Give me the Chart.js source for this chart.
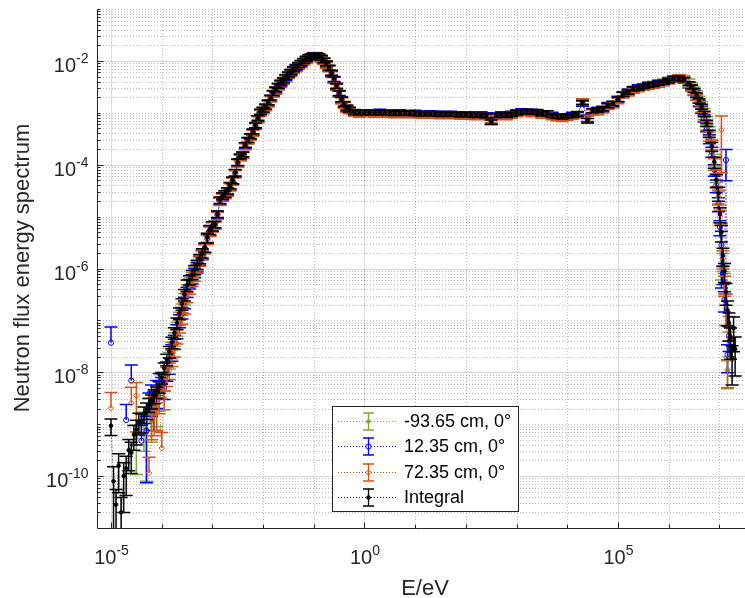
<!DOCTYPE html>
<html>
<head>
<meta charset="utf-8">
<title>Neutron flux energy spectrum</title>
<script src="https://cdn.jsdelivr.net/npm/chart.js@4.4.1/dist/chart.umd.min.js"></script>
<style>
  html, body { margin: 0; padding: 0; background: #fff; }
  canvas { display: block; }
</style>
</head>
<body>
<canvas id="spectrum" width="745" height="598"></canvas>
<script>
// energy bins, log10(E/eV)
const energyExp = [
  -5.00,-4.95,-4.90,-4.85,-4.80,-4.75,-4.70,-4.65,-4.60,-4.55,
  -4.50,-4.45,-4.40,-4.35,-4.30,-4.25,-4.20,-4.15,-4.10,-4.05,
  -4.00,-3.95,-3.90,-3.85,-3.80,-3.75,-3.70,-3.65,-3.60,-3.55,
  -3.50,-3.45,-3.40,-3.35,-3.30,-3.25,-3.20,-3.15,-3.10,-3.05,
  -3.00,-2.95,-2.90,-2.85,-2.80,-2.75,-2.70,-2.65,-2.60,-2.55,
  -2.50,-2.45,-2.40,-2.35,-2.30,-2.25,-2.20,-2.15,-2.10,-2.05,
  -2.00,-1.95,-1.90,-1.85,-1.80,-1.75,-1.70,-1.65,-1.60,-1.55,
  -1.50,-1.45,-1.40,-1.35,-1.30,-1.25,-1.20,-1.15,-1.10,-1.05,
  -1.00,-0.95,-0.90,-0.85,-0.80,-0.75,-0.70,-0.65,-0.60,-0.55,
  -0.50,-0.45,-0.40,-0.35,-0.30,
  -0.2,-0.1,0.0,0.1,0.2,0.3,0.4,0.5,0.6,0.7,
  0.8,0.9,1.0,1.1,1.2,1.3,1.4,1.5,1.6,1.7,
  1.8,1.9,2.0,2.1,2.2,2.3,2.4,2.5,2.6,2.7,
  2.8,2.9,3.0,3.1,3.2,3.3,3.4,3.5,3.6,3.7,
  3.8,3.9,4.0,4.1,4.2,4.3,4.4,4.5,4.6,4.7,
  4.8,4.9,5.0,5.1,5.2,5.3,5.4,5.5,5.6,5.7,
  5.8,5.9,6.0,6.1,6.2,6.3,6.4,
  6.45,6.50,6.55,6.60,6.65,6.70,6.75,6.80,
  6.85,6.90,6.94,6.98,7.01,7.04,7.07,7.10,7.13,7.16,7.19,7.22,7.25,7.28,7.31
];

// log10 of flux, one list per detector position
const fluxM9365 = [
  null,null,null,null,null,null,null,null,null,null,
  -9.27,null,null,-9.00,-9.10,-8.80,-8.95,-8.60,-8.70,-8.45,
  -8.35,-8.15,-7.95,-7.75,-7.55,-7.35,-7.15,-6.95,-6.78,-6.58,
  -6.40,-6.27,-6.16,-6.05,-5.95,-5.83,-5.72,-5.60,-5.41,-5.26,
  -5.19,-5.15,-4.96,-4.69,-4.61,-4.56,-4.51,-4.41,-4.30,-4.16,
  -3.96,-3.85,-3.80,-3.63,-3.53,-3.45,-3.37,-3.24,-3.11,-2.98,
  -2.94,-2.88,-2.81,-2.71,-2.62,-2.55,-2.48,-2.42,-2.37,-2.31,
  -2.26,-2.21,-2.16,-2.12,-2.08,-2.04,-2.00,-1.96,-1.93,-1.91,
  -1.89,-1.89,-1.91,-1.94,-1.99,-2.05,-2.13,-2.23,-2.35,-2.48,
  -2.62,-2.74,-2.83,-2.90,-2.94,
  -2.98,-3.00,-3.01,-2.99,-3.00,-3.00,-3.00,-2.99,-3.01,-3.01,
  -3.01,-3.00,-3.02,-3.02,-3.01,-3.02,-3.02,-3.03,-3.02,-3.03,
  -3.03,-3.04,-3.03,-3.05,-3.05,-3.04,-3.06,-3.16,-3.05,-3.05,
  -3.05,-3.03,-3.01,-2.98,-2.98,-2.99,-2.98,-3.02,-3.01,-3.05,
  -3.07,-3.08,-3.07,-3.05,-3.02,-2.80,-3.12,-2.96,-2.95,-2.92,
  -2.86,-2.82,-2.74,-2.64,-2.60,-2.54,-2.52,-2.49,-2.46,-2.44,
  -2.42,-2.40,-2.37,-2.33,-2.32,-2.33,-2.40,
  -2.47,-2.55,-2.63,-2.74,-2.85,-2.98,-3.15,-3.35,
  -3.60,-3.90,-4.20,-4.60,-4.95,-5.40,-5.85,-6.25,-6.70,-7.97,-7.40,null,null,null,null
];
const flux1235 = [
  -7.43,null,null,null,null,null,-8.92,null,-8.16,null,
  null,null,-9.32,null,-9.13,-8.70,-8.45,-8.60,-8.35,-8.20,
  -8.40,-8.30,-7.95,-7.85,-7.60,-7.40,-7.20,-7.00,-6.85,-6.65,
  -6.45,-6.30,-6.20,-6.08,-5.97,-5.85,-5.73,-5.61,-5.42,-5.27,
  -5.19,-5.16,-4.96,-4.70,-4.61,-4.57,-4.51,-4.41,-4.31,-4.16,
  -3.96,-3.85,-3.81,-3.63,-3.53,-3.46,-3.37,-3.25,-3.11,-2.99,
  -2.95,-2.89,-2.81,-2.72,-2.63,-2.56,-2.49,-2.43,-2.38,-2.32,
  -2.27,-2.22,-2.17,-2.13,-2.09,-2.05,-2.01,-1.97,-1.94,-1.92,
  -1.90,-1.90,-1.92,-1.95,-2.00,-2.06,-2.14,-2.24,-2.36,-2.49,
  -2.63,-2.75,-2.84,-2.91,-2.95,
  -2.99,-3.01,-2.99,-3.00,-3.01,-2.98,-3.01,-3.00,-3.02,-2.99,
  -3.02,-3.01,-3.00,-3.03,-3.02,-3.01,-3.02,-3.02,-3.03,-3.02,
  -3.03,-3.03,-3.04,-3.03,-3.06,-3.03,-3.05,-3.15,-3.06,-3.03,
  -3.04,-3.02,-2.99,-2.97,-2.98,-2.98,-2.99,-3.01,-3.01,-3.04,
  -3.08,-3.07,-3.07,-3.04,-3.03,-2.82,-3.10,-2.97,-2.94,-2.93,
  -2.85,-2.83,-2.73,-2.65,-2.59,-2.55,-2.51,-2.50,-2.46,-2.46,
  -2.42,-2.42,-2.37,-2.35,-2.34,-2.37,-2.46,
  -2.52,-2.61,-2.70,-2.82,-2.94,-3.10,-3.28,-3.50,
  -3.75,-4.10,-4.40,-4.75,-5.20,-5.55,-6.10,-6.60,-3.91,-7.66,-7.30,null,null,null,null
];
const flux7235 = [
  -8.69,null,null,null,null,null,null,null,-8.59,null,
  -8.45,null,null,null,null,-9.94,-8.90,-8.70,-8.78,-8.50,
  -9.46,-8.50,-8.05,-7.95,-7.70,-7.55,-7.30,-7.10,-6.95,-6.75,
  -6.55,-6.40,-6.25,-6.15,-6.00,-5.86,-5.74,-5.62,-5.44,-5.28,
  -5.20,-5.17,-4.98,-4.71,-4.63,-4.58,-4.53,-4.43,-4.32,-4.18,
  -3.97,-3.87,-3.82,-3.65,-3.54,-3.47,-3.39,-3.26,-3.13,-3.00,
  -2.96,-2.90,-2.83,-2.73,-2.64,-2.58,-2.50,-2.45,-2.39,-2.34,
  -2.28,-2.24,-2.18,-2.15,-2.10,-2.07,-2.02,-1.99,-1.95,-1.94,
  -1.91,-1.92,-1.93,-1.97,-2.01,-2.08,-2.15,-2.26,-2.37,-2.51,
  -2.64,-2.77,-2.85,-2.93,-2.96,
  -3.01,-3.03,-3.02,-3.02,-3.03,-3.01,-3.03,-3.02,-3.04,-3.02,
  -3.04,-3.03,-3.04,-3.05,-3.03,-3.05,-3.04,-3.06,-3.05,-3.06,
  -3.04,-3.07,-3.06,-3.07,-3.08,-3.06,-3.08,-3.12,-3.08,-3.07,
  -3.08,-3.05,-3.02,-3.00,-2.99,-3.02,-3.01,-3.05,-3.03,-3.08,
  -3.10,-3.11,-3.09,-3.07,-3.05,-2.78,-3.12,-2.99,-2.98,-2.95,
  -2.88,-2.85,-2.77,-2.66,-2.62,-2.57,-2.54,-2.51,-2.49,-2.47,
  -2.45,-2.42,-2.39,-2.35,-2.31,-2.35,-2.46,
  -2.52,-2.60,-2.70,-2.80,-2.92,-3.06,-3.25,-3.45,
  -3.62,-3.98,-4.28,-4.62,-5.00,-3.33,-5.80,-6.30,-6.70,-7.95,-7.10,null,null,null,null
];
const fluxIntegral = [
  -9.03,-10.10,-10.55,-9.80,-10.70,-10.00,-9.85,-9.50,-9.55,-9.20,
  -9.10,-8.95,-8.95,-8.80,-8.72,-8.62,-8.55,-8.45,-8.38,-8.28,
  -8.10,-7.92,-7.75,-7.60,-7.42,-7.24,-7.05,-6.86,-6.68,-6.50,
  -6.32,-6.22,-6.12,-6.02,-5.92,-5.81,-5.70,-5.59,-5.40,-5.25,
  -5.18,-5.15,-4.95,-4.68,-4.60,-4.56,-4.50,-4.40,-4.30,-4.15,
  -3.95,-3.84,-3.80,-3.62,-3.52,-3.45,-3.36,-3.24,-3.10,-2.98,
  -2.94,-2.88,-2.80,-2.71,-2.62,-2.55,-2.48,-2.42,-2.37,-2.31,
  -2.26,-2.21,-2.16,-2.12,-2.08,-2.04,-2.00,-1.96,-1.93,-1.91,
  -1.89,-1.89,-1.91,-1.94,-1.99,-2.05,-2.13,-2.23,-2.35,-2.48,
  -2.62,-2.74,-2.83,-2.90,-2.94,
  -2.98,-3.00,-3.00,-2.99,-3.00,-2.99,-3.00,-2.99,-3.01,-3.00,
  -3.01,-3.00,-3.01,-3.02,-3.01,-3.02,-3.01,-3.03,-3.02,-3.03,
  -3.02,-3.04,-3.03,-3.04,-3.05,-3.04,-3.06,-3.18,-3.05,-3.04,
  -3.05,-3.03,-3.00,-2.98,-2.97,-2.99,-2.98,-3.02,-3.00,-3.05,
  -3.07,-3.08,-3.06,-3.05,-3.02,-2.80,-3.15,-2.96,-2.95,-2.92,
  -2.86,-2.82,-2.74,-2.64,-2.60,-2.54,-2.52,-2.49,-2.47,-2.45,
  -2.43,-2.41,-2.38,-2.34,-2.33,-2.36,-2.44,
  -2.50,-2.57,-2.66,-2.77,-2.88,-3.02,-3.20,-3.40,
  -3.65,-3.95,-4.30,-4.55,-4.95,-5.30,-5.75,-6.05,-6.45,-6.80,-7.05,-7.35,-7.72,-7.15,-7.55
];

// relative errors in percent
const errDetectors = [
  100,0,0,0,0,0,100,0,100,0,
  80,0,100,70,90,100,60,70,55,50,
  100,40,40,35,35,30,30,28,25,25,
  22,20,20,20,20,20,20,20,20,20,
  20,16,16,16,16,16,16,16,16,16,
  16,13,13,13,13,13,13,13,13,13,
  13,13,13,13,13,13,13,13,13,13,
  13,13,13,13,13,13,13,13,13,13,
  13,13,13,13,13,13,13,13,13,13,
  13,13,13,13,13,
  12,12,12,12,12,12,12,12,12,12,
  12,12,12,12,12,12,12,12,12,12,
  12,12,12,12,12,12,12,14,12,12,
  12,12,12,12,12,12,12,12,12,12,
  12,12,12,12,12,12,14,12,12,12,
  12,12,12,12,12,12,12,12,12,12,
  12,12,12,12,12,12,12,
  12,12,13,14,15,16,18,20,
  22,25,28,30,32,85,38,42,60,55,50,0,0,0,0
];
const errIntegral = [
  35,90,95,70,95,80,70,60,60,50,
  50,45,40,35,35,30,30,30,25,25,
  25,25,25,25,25,25,25,25,25,25,
  25,20,20,20,20,20,20,20,20,20,
  20,14,14,14,14,14,14,14,14,14,
  14,10,10,10,10,10,10,10,10,10,
  10,10,10,10,10,10,10,10,10,10,
  10,10,10,10,10,10,10,10,10,10,
  10,10,10,10,10,10,10,10,10,10,
  10,10,10,10,10,
  9,9,9,9,9,9,9,9,9,9,
  9,9,9,9,9,9,9,9,9,9,
  9,9,9,9,9,9,9,10,9,9,
  9,9,9,9,9,9,9,9,9,9,
  9,9,9,9,9,9,10,9,9,9,
  9,9,9,9,9,9,9,9,9,9,
  9,9,9,9,9,9,9,
  9,9,10,10,11,12,14,16,
  20,24,28,30,32,35,38,40,45,50,55,60,70,65,70
];

const seriesLabels = ['-93.65 cm, 0°', '12.35 cm, 0°', '72.35 cm, 0°', 'Integral'];
const xTickExps = [-5, 0, 5];
const yTickExps = [-10, -8, -6, -4, -2];

const FONT = '"Liberation Sans", Arial, Helvetica, sans-serif';
const AXIS_COLOR = '#262626';
const CAP = 6.5;

function toPoints(vals) {
  return energyExp.map((e, i) => ({
    x: Math.pow(10, e),
    y: vals[i] === null ? null : Math.pow(10, vals[i])
  }));
}

function makeSeries(label, vals, color, style, radius, filled, order) {
  return {
    label: label,
    data: toPoints(vals),
    order: order,
    showLine: true,
    borderColor: color,
    borderWidth: 0.8,
    borderDash: [1, 2],
    pointStyle: style,
    pointRadius: radius,
    pointBorderWidth: 1,
    pointBorderColor: color,
    pointBackgroundColor: filled ? color : 'rgba(0,0,0,0)'
  };
}

const datasets = [
  makeSeries(seriesLabels[0], fluxM9365, '#77AC30', 'circle', 1.8, true, 4),
  makeSeries(seriesLabels[1], flux1235, '#0000FF', 'circle', 2.6, false, 3),
  makeSeries(seriesLabels[2], flux7235, '#D95319', 'rectRot', 2.8, false, 2),
  makeSeries(seriesLabels[3], fluxIntegral, '#000000', 'circle', 1.8, true, 1)
];
const errorLists = [errDetectors, errDetectors, errDetectors, errIntegral];

// vertical error bars with caps, drawn right after each dataset
const errorBars = {
  id: 'errorBars',
  afterDatasetDraw(chart, args) {
    const ds = chart.data.datasets[args.index];
    const errs = errorLists[args.index];
    const ys = chart.scales.y;
    const a = chart.chartArea;
    const ctx = chart.ctx;
    ctx.save();
    ctx.beginPath();
    ctx.rect(a.left, a.top, a.right - a.left, a.bottom - a.top);
    ctx.clip();
    ctx.strokeStyle = ds.borderColor;
    ctx.lineWidth = 1.5;
    ctx.setLineDash([]);
    ctx.beginPath();
    args.meta.data.forEach((pt, i) => {
      const d = ds.data[i];
      if (d.y === null || !errs[i]) return;
      const r = errs[i] / 100;
      const px = pt.x;
      const yTop = ys.getPixelForValue(d.y * (1 + r));
      const yBot = r < 1 ? ys.getPixelForValue(d.y * (1 - r)) : ys.getPixelForValue(d.y);
      ctx.moveTo(px, yTop); ctx.lineTo(px, yBot);
      ctx.moveTo(px - CAP, yTop); ctx.lineTo(px + CAP, yTop);
      if (r < 1) { ctx.moveTo(px - CAP, yBot); ctx.lineTo(px + CAP, yBot); }
    });
    ctx.stroke();
    ctx.restore();
  }
};

function drawPow(ctx, exp, x, y, align) {
  const base = '10', sup = String(exp);
  ctx.font = '20px ' + FONT;
  const bw = ctx.measureText(base).width;
  ctx.font = '14px ' + FONT;
  const ew = ctx.measureText(sup).width;
  const x0 = align === 'right' ? x - bw - ew : x - (bw + ew) / 2;
  ctx.textAlign = 'left';
  ctx.textBaseline = 'alphabetic';
  ctx.font = '20px ' + FONT;
  ctx.fillText(base, x0, y);
  ctx.font = '14px ' + FONT;
  ctx.fillText(sup, x0 + bw, y - 9);
}

// grid, axes, ticks, tick labels and axis titles
const matlabAxes = {
  id: 'matlabAxes',
  beforeDatasetsDraw(chart) {
    const { ctx, chartArea: a, scales: { x, y } } = chart;
    const px = v => Math.round(x.getPixelForValue(v)) + 0.5;
    const py = v => Math.round(y.getPixelForValue(v)) + 0.5;
    ctx.save();
    ctx.lineWidth = 1;

    // minor grid (dotted)
    ctx.strokeStyle = 'rgba(38,38,38,0.3)';
    ctx.setLineDash([1, 2]);
    ctx.beginPath();
    for (let d = -11; d <= -1; d++) {
      for (let m = 1; m <= 9; m++) {
        if (m === 1 && yTickExps.includes(d)) continue;
        if (d === -1 && m > 1) continue;
        const yy = py(m * Math.pow(10, d));
        if (yy < a.top || yy > a.bottom) continue;
        ctx.moveTo(a.left, yy); ctx.lineTo(a.right, yy);
      }
    }
    for (let d = -5; d <= 7; d++) {
      if (xTickExps.includes(d)) continue;
      const xx = px(Math.pow(10, d));
      ctx.moveTo(xx, a.top); ctx.lineTo(xx, a.bottom);
    }
    ctx.stroke();

    // major grid
    ctx.setLineDash([]);
    ctx.strokeStyle = 'rgba(38,38,38,0.16)';
    ctx.beginPath();
    yTickExps.forEach(d => { const yy = py(Math.pow(10, d)); ctx.moveTo(a.left, yy); ctx.lineTo(a.right, yy); });
    xTickExps.forEach(d => { const xx = px(Math.pow(10, d)); ctx.moveTo(xx, a.top); ctx.lineTo(xx, a.bottom); });
    ctx.stroke();

    // axis lines and inward ticks
    ctx.strokeStyle = AXIS_COLOR;
    ctx.beginPath();
    const lx = a.left + 0.5, by = a.bottom + 0.5;
    ctx.moveTo(lx, a.top); ctx.lineTo(lx, by); ctx.lineTo(a.right, by);
    for (let d = -11; d <= -1; d++) {
      for (let m = 1; m <= 9; m++) {
        if (d === -1 && m > 1) continue;
        const yy = py(m * Math.pow(10, d));
        if (yy < a.top || yy > a.bottom) continue;
        const len = (m === 1 && yTickExps.includes(d)) ? 6 : 3;
        ctx.moveTo(lx, yy); ctx.lineTo(lx + len, yy);
      }
    }
    for (let d = -5; d <= 7; d++) {
      const xx = px(Math.pow(10, d));
      const len = xTickExps.includes(d) ? 6 : 4;
      ctx.moveTo(xx, by); ctx.lineTo(xx, by - len);
    }
    ctx.stroke();
    ctx.restore();
  },
  afterDraw(chart) {
    const { ctx, chartArea: a, scales: { x, y } } = chart;
    ctx.save();
    ctx.fillStyle = AXIS_COLOR;
    yTickExps.forEach(d => {
      const yy = y.getPixelForValue(Math.pow(10, d));
      drawPow(ctx, d, a.left - 8.5, yy + 11, 'right');
    });
    xTickExps.forEach(d => {
      const xx = x.getPixelForValue(Math.pow(10, d));
      drawPow(ctx, d, xx + 0.5, a.bottom + 36, 'center');
    });
    ctx.font = '22px ' + FONT;
    ctx.textAlign = 'center';
    ctx.textBaseline = 'alphabetic';
    ctx.fillText('E/eV', 425, 595);
    ctx.translate(28.5, 268);
    ctx.rotate(-Math.PI / 2);
    ctx.fillText('Neutron flux energy spectrum', 0, 0);
    ctx.restore();
  }
};

function drawMarker(ctx, ds, cx, cy) {
  ctx.setLineDash([]);
  ctx.lineWidth = 1;
  ctx.strokeStyle = ds.borderColor;
  ctx.fillStyle = ds.pointBackgroundColor;
  const r = ds.pointRadius;
  ctx.beginPath();
  if (ds.pointStyle === 'rectRot') {
    ctx.moveTo(cx, cy - r); ctx.lineTo(cx + r, cy); ctx.lineTo(cx, cy + r); ctx.lineTo(cx - r, cy); ctx.closePath();
  } else {
    ctx.arc(cx, cy, r, 0, Math.PI * 2);
  }
  ctx.fill();
  ctx.stroke();
}

// legend box in the lower middle
const matlabLegend = {
  id: 'matlabLegend',
  afterDraw(chart) {
    const ctx = chart.ctx;
    const bx = 332.5, by = 406.5, bw = 186, bh = 105;
    ctx.save();
    ctx.fillStyle = '#fff';
    ctx.fillRect(bx, by, bw, bh);
    ctx.strokeStyle = AXIS_COLOR;
    ctx.lineWidth = 1;
    ctx.strokeRect(bx, by, bw, bh);
    chart.data.datasets.forEach((ds, i) => {
      const cy = Math.round(421 + i * 25.3) + 0.5;
      ctx.strokeStyle = ds.borderColor;
      ctx.lineWidth = 1;
      ctx.setLineDash([1, 2]);
      ctx.beginPath();
      ctx.moveTo(338, cy); ctx.lineTo(398, cy);
      ctx.stroke();
      ctx.setLineDash([]);
      ctx.lineWidth = 1.3;
      ctx.beginPath();
      ctx.moveTo(368.5, cy - 8.5); ctx.lineTo(368.5, cy + 8.5);
      ctx.moveTo(363, cy - 8.5); ctx.lineTo(374, cy - 8.5);
      ctx.moveTo(363, cy + 8.5); ctx.lineTo(374, cy + 8.5);
      ctx.stroke();
      drawMarker(ctx, ds, 368.5, cy);
      ctx.fillStyle = '#000';
      ctx.font = '18px ' + FONT;
      ctx.textAlign = 'left';
      ctx.textBaseline = 'middle';
      ctx.fillText(ds.label, 404, cy + 1);
    });
    ctx.restore();
  }
};

new Chart(document.getElementById('spectrum'), {
  type: 'scatter',
  data: { datasets: datasets },
  options: {
    responsive: false,
    animation: false,
    events: [],
    layout: { autoPadding: false, padding: { top: 9, right: 0, left: 0, bottom: 0 } },
    plugins: { legend: { display: false }, tooltip: { enabled: false } },
    scales: {
      x: {
        type: 'logarithmic',
        min: Math.pow(10, -5.276),
        max: Math.pow(10, 7.505),
        ticks: { display: false },
        grid: { display: false },
        border: { display: false },
        afterFit: s => { s.height = 70; }
      },
      y: {
        type: 'logarithmic',
        min: 1e-11,
        max: 1e-1,
        ticks: { display: false },
        grid: { display: false },
        border: { display: false },
        afterFit: s => { s.width = 97; }
      }
    }
  },
  plugins: [matlabAxes, errorBars, matlabLegend]
});
</script>
</body>
</html>
